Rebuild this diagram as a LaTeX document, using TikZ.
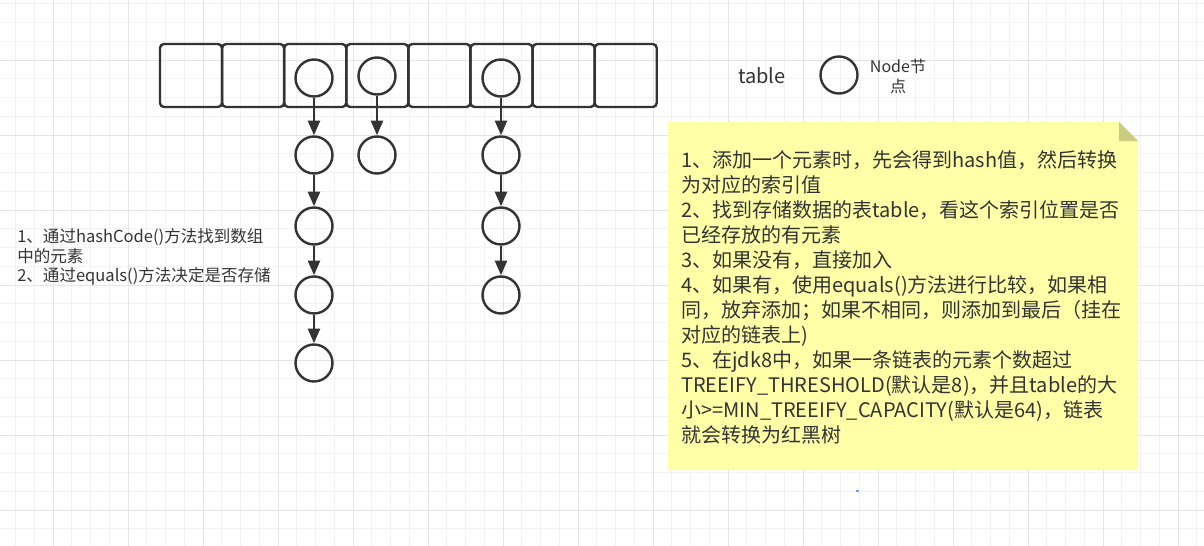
\documentclass[tikz,border=0pt]{standalone}
\usepackage{fontspec}
\setmainfont{Noto Sans CJK SC}
\usetikzlibrary{arrows.meta}
\definecolor{ink}{HTML}{333333}
\definecolor{notefill}{RGB}{255,255,168}
\definecolor{notefold}{RGB}{204,204,128}
\definecolor{gridminor}{HTML}{F3F3F3}
\definecolor{gridmajor}{HTML}{E5E5E5}
\definecolor{cursor}{RGB}{100,170,240}

\begin{document}
\begin{tikzpicture}[x=0.75pt, y=-0.75pt,
  cell/.style={draw=ink, line width=1.8pt, rounded corners=3pt, minimum width=46.5pt, minimum height=47.25pt, inner sep=0pt},
  entry/.style={draw=ink, line width=1.8pt, circle, minimum size=27.75pt, inner sep=0pt},
  link/.style={draw=ink, line width=1.8pt, -{Triangle[length=11pt,width=9pt]}},
  txt/.style={text=ink, inner sep=0pt, align=left}]
\useasboundingbox (0,0) rectangle (1204,546);
% grid
\foreach \k in {0,...,64} \draw[gridminor, line width=0.75pt] (-3.25+18.75*\k,0) -- (-3.25+18.75*\k,546);
\foreach \k in {0,...,28} \draw[gridminor, line width=0.75pt] (0,3.75+18.75*\k) -- (1204,3.75+18.75*\k);
\foreach \k in {0,...,15} \draw[gridmajor, line width=0.75pt] (53+75*\k,0) -- (53+75*\k,546);
\foreach \k in {0,...,6} \draw[gridmajor, line width=0.75pt] (0,60+75*\k) -- (1204,60+75*\k);

% table
\foreach \i in {1,...,8} \node[cell] (c\i) at (191+62.1*\i-62.1, 75.5) {};
\node[entry] (h3) at (314,78) {};
\node[entry] (h4) at (377,76) {};
\node[entry] (h6) at (501,78) {};

% chains
\node[entry] (a1) at (314,155) {};
\node[entry] (a2) at (314,226) {};
\node[entry] (a3) at (314,295) {};
\node[entry] (a4) at (314,363) {};
\node[entry] (b1) at (377,155) {};
\node[entry] (d1) at (501,155) {};
\node[entry] (d2) at (501,226) {};
\node[entry] (d3) at (501,295) {};
\draw[link] (h3) -- (a1);
\draw[link] (a1) -- (a2);
\draw[link] (a2) -- (a3);
\draw[link] (a3) -- (a4);
\draw[link] (h4) -- (b1);
\draw[link] (h6) -- (d1);
\draw[link] (d1) -- (d2);
\draw[link] (d2) -- (d3);

% legend
\node[txt, font=\fontsize{15}{18}\selectfont] (tablelabel) at (762,76) {table};
\node[entry] (legendnode) at (839,75) {};
\node[txt, align=center, font=\fontsize{12}{15}\selectfont] (nodelabel) at (898,76) {Node节\\点};

% left text
\node[txt, anchor=west, font=\fontsize{12.4}{14.8}\selectfont] (hashtext) at (17,257) {1、通过hashCode()方法找到数组\\中的元素\\2、通过equals()方法决定是否存储};

% note
\fill[notefill] (668,122) -- (1119,122) -- (1138,141) -- (1138,470) -- (668,470) -- cycle;
\fill[notefold] (1119,122) -- (1138,141) -- (1119,141) -- cycle;
\node[txt, anchor=west, font=\fontsize{15}{18.75}\selectfont] (notetext) at (681,297) {1、添加一个元素时，先会得到hash值，然后转换\\为对应的索引值\\2、找到存储数据的表table，看这个索引位置是否\\已经存放的有元素\\3、如果没有，直接加入\\4、如果有，使用equals()方法进行比较，如果相\\同，放弃添加；如果不相同，则添加到最后（挂在\\对应的链表上)\\5、在jdk8中，如果一条链表的元素个数超过\\TREEIFY\_THRESHOLD(默认是8)，并且table的大\\小>=MIN\_TREEIFY\_CAPACITY(默认是64)，链表\\就会转换为红黑树};
\fill[cursor] (856,490) rectangle (859,492);
\end{tikzpicture}
\end{document}
